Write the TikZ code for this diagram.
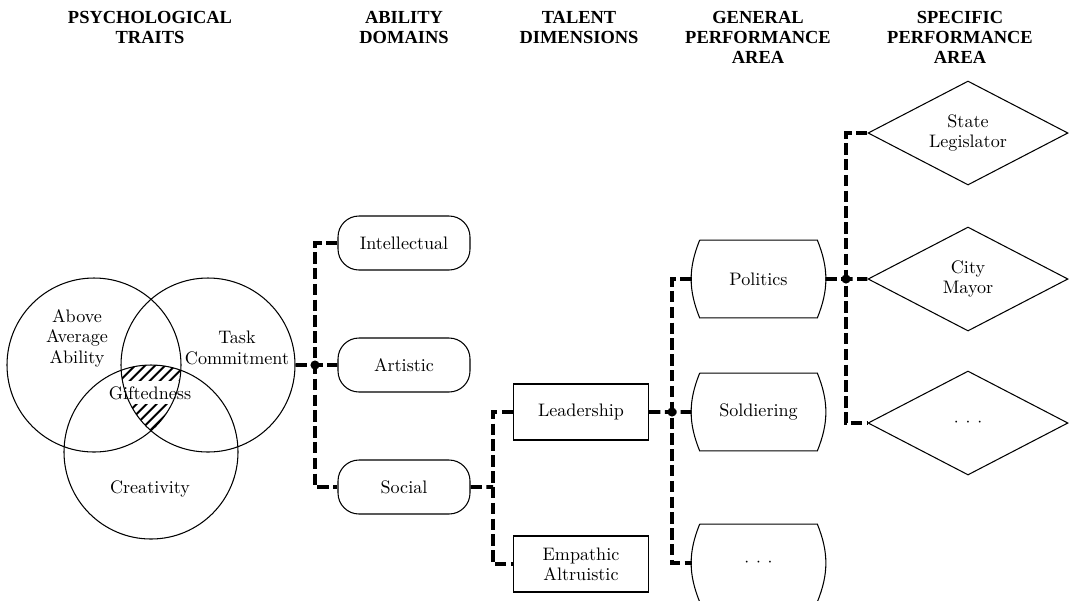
\documentclass[tikz,border=0pt]{standalone}
\usepackage{fontspec}
\newfontfamily\headfont{Liberation Serif}
\usetikzlibrary{shapes,positioning,calc,patterns.meta}
\tikzset{
    trait/.style = {
        draw,
        circle,
        inner sep=0pt,
        minimum size=3.48cm,
        line width=0.6pt
    },
    ability/.style = {
        draw,
        rectangle,
        rounded corners=0.42cm,
        minimum width=2.64cm,
        minimum height=1.08cm,
        line width=0.6pt
    },
    talent/.style = {
        draw,
        rectangle,
        align=center,
        minimum width=2.7cm,
        minimum height=1.12cm,
        line width=0.6pt
    },
    perfarea/.style = {
        rectangle,
        minimum width=2.66cm,
        minimum height=1.54cm
    },
    specific/.style = {
        draw,
        diamond,
        aspect=2,
        align=center,
        inner sep=0pt,
        minimum width=4cm,
        minimum height=2.08cm,
        line width=0.6pt
    },
    head/.style = {
        font=\headfont\bfseries\fontsize{10.5}{11.4}\selectfont,
        align=center,
        anchor=north,
        inner sep=0pt
    },
    conn/.style = {
        line width=2.2pt,
        dash pattern=on 6.5pt off 2.5pt
    }
}

\begin{document}
\begin{tikzpicture}[font=\fontsize{10.3}{11.6}\selectfont]
            \useasboundingbox (0,0) rectangle (21.46,-12);
            % headings
            \node [head] (traitshead) at (3.0,-0.22) {PSYCHOLOGICAL\\TRAITS};
            \node [head] (abilityhead) at (8.08,-0.22) {ABILITY\\DOMAINS};
            \node [head] (talenthead) at (11.58,-0.22) {TALENT\\DIMENSIONS};
            \node [head] (generalhead) at (15.16,-0.22) {GENERAL\\PERFORMANCE\\AREA};
            \node [head] (specifichead) at (19.2,-0.22) {SPECIFIC\\PERFORMANCE\\AREA};

            % venn diagram
            \coordinate (c1) at (1.88,-7.3);
            \coordinate (c2) at (4.16,-7.3);
            \coordinate (c3) at (3.02,-9.04);
            \begin{scope}
                \clip (c1) circle (1.74cm);
                \clip (c2) circle (1.74cm);
                \fill [pattern={Lines[angle=45,distance=4pt,line width=1.2pt]}] (c3) circle (1.74cm);
                \fill [white] (0,-7.62) rectangle (6,-8.08);
            \end{scope}
            \node [trait] (aboveavg) at (c1) {};
            \node [trait] (task) at (c2) {};
            \node [trait] (creativity) at (c3) {};
            \node [align=center] (abovelbl) at (1.54,-6.76) {Above\\Average\\Ability};
            \node [align=center] (tasklbl) at (4.74,-6.96) {Task\\Commitment};
            \node (creativitylbl) at (3.0,-9.78) {Creativity};
            \node (giftedlbl) at (3.0,-7.86) {Giftedness};

            % nodes
            \node [ability] (intellectual) at (8.08,-4.86) {Intellectual};
            \node [ability,below of=intellectual,node distance=2.44cm] (artistic) {Artistic};
            \node [ability,below of=artistic,node distance=2.44cm] (social) {Social};

            \node [talent] (leadership) at (11.62,-8.24) {Leadership};
            \node [talent,below of=leadership,node distance=3.04cm] (empathic) {Empathic\\Altruistic};

            \node [perfarea] (politics) at (15.17,-5.58) {Politics};
            \node [perfarea,below of=politics,node distance=2.66cm] (soldiering) {Soldiering};
            \node [perfarea,below of=soldiering,node distance=3.02cm] (generalmore) {$\cdot\,\cdot\,\cdot$};
            \foreach \n in {politics,soldiering,generalmore}
                \draw [line width=0.6pt] ([xshift=0.16cm]\n.north west) -- ([xshift=-0.16cm]\n.north east)
                    to[out=-68,in=68] ([xshift=-0.16cm]\n.south east) -- ([xshift=0.16cm]\n.south west)
                    to[out=112,in=-112] ([xshift=0.16cm]\n.north west);

            \node [specific] (legislator) at (19.36,-2.66) {State\\Legislator};
            \node [specific,below of=legislator,node distance=2.92cm] (mayor) {City\\Mayor};
            \node [specific,below of=mayor,node distance=2.88cm] (specificmore) {$\cdot\,\cdot\,\cdot$};

            % junctions
            \coordinate (j1) at (6.3,-7.3);
            \coordinate (j2) at (9.86,-9.74);
            \coordinate (j3) at (13.44,-8.24);
            \coordinate (j4) at (16.92,-5.58);

            % connectors
            \draw [conn] (task.east) -- (artistic.west);
            \draw [conn] (intellectual.west) -| (j1) |- (social.west);
            \draw [conn] (social.east) -- (j2);
            \draw [conn] (leadership.west) -| (j2) |- (empathic.west);
            \draw [conn] (leadership.east) -- (soldiering.west);
            \draw [conn] (politics.west) -| (j3) |- (generalmore.west);
            \draw [conn] (politics.east) -- (mayor.west);
            \draw [conn] (legislator.west) -| (j4) |- (specificmore.west);
            \foreach \j in {j1,j3,j4}
                \fill (\j) circle (2.6pt);
        \end{tikzpicture}
\end{document}
